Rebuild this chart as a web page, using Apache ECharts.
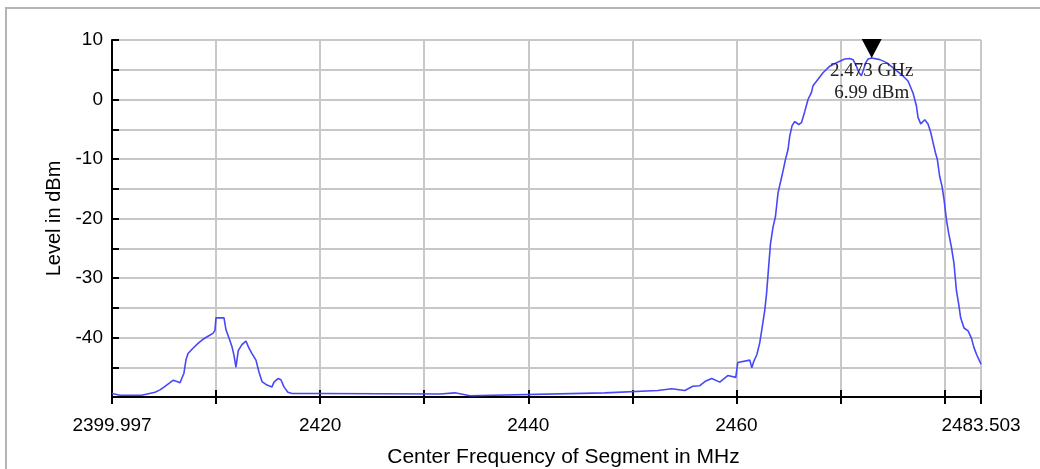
<!DOCTYPE html>
<html>
<head>
<meta charset="utf-8">
<script src="https://cdn.jsdelivr.net/npm/echarts@6/dist/echarts.min.js"></script>
<style>html,body{margin:0;padding:0;background:#fff}#c{width:1040px;height:469px}</style>
</head>
<body>
<div id="c"></div>
<script>
const freqMHz = [2399.997,2400.77,2402.85,2403.0,2404.13,2404.61,2405.09,2405.57,2405.86,2406.24,2406.53,2406.72,2406.91,2407.10,2407.30,2407.78,2408.26,2408.74,2409.22,2409.70,2409.89,2409.99,2410.37,2410.56,2410.76,2410.95,2411.24,2411.52,2411.72,2411.91,2412.13,2412.48,2412.87,2413.16,2413.45,2413.83,2414.12,2414.41,2414.89,2415.37,2415.56,2415.94,2416.23,2416.52,2416.90,2417.29,2419.98,2420.1,2431.5,2432.95,2434.4,2434.58,2447.35,2452.45,2453.79,2455.04,2455.81,2456.48,2457.06,2457.63,2458.40,2459.17,2459.94,2460.13,2461.29,2461.48,2461.67,2461.96,2462.24,2462.43,2462.72,2462.89,2463.04,2463.27,2463.52,2463.75,2464.0,2464.26,2464.48,2464.71,2464.96,2465.12,2465.35,2465.61,2465.99,2466.25,2466.57,2466.88,2467.21,2467.36,2467.84,2468.32,2468.97,2469.77,2470.41,2470.89,2471.21,2471.53,2471.78,2472.01,2472.17,2472.43,2472.65,2473.0,2473.79,2474.43,2475.21,2475.86,2476.49,2476.97,2477.30,2477.45,2477.71,2478.10,2478.41,2478.67,2478.89,2479.12,2479.31,2479.53,2479.76,2479.95,2480.18,2480.40,2480.66,2480.91,2481.14,2481.36,2481.55,2481.87,2482.26,2482.58,2482.83,2483.09,2483.38,2483.503];
const levelDbm = [-49.4,-49.7,-49.7,-49.5,-49.2,-48.8,-48.2,-47.6,-47.2,-47.4,-47.6,-47.4,-46.0,-43.8,-42.7,-41.8,-41.0,-40.3,-39.8,-39.3,-38.8,-36.7,-36.7,-37.0,-36.7,-38.7,-40.1,-41.5,-43.0,-45.0,-42.2,-41.2,-40.6,-41.8,-42.7,-43.8,-45.8,-47.4,-48.0,-48.3,-47.5,-46.9,-47.1,-48.3,-49.2,-49.4,-49.4,-49.6,-49.5,-49.3,-49.8,-49.5,-49.3,-48.9,-48.6,-48.9,-48.2,-48.1,-47.3,-46.9,-47.5,-46.4,-46.7,-44.2,-43.8,-45.1,-44.0,-42.9,-40.9,-38.8,-35.5,-32.7,-29.4,-24.3,-21.4,-19.7,-15.7,-13.7,-12.0,-10.1,-8.4,-6.2,-4.4,-3.7,-4.2,-3.9,-2.0,0.0,1.2,2.3,3.4,4.5,5.6,6.3,6.8,6.9,6.7,5.6,4.5,4.0,4.8,6.2,6.8,6.99,6.7,6.2,5.1,4.2,3.1,1.1,-1.1,-3.0,-4.1,-3.4,-4.1,-5.5,-7.2,-8.9,-10.1,-12.9,-14.6,-16.8,-20.2,-22.5,-24.8,-27.6,-32.1,-34.4,-36.7,-38.4,-38.9,-40.1,-41.7,-42.9,-44.0,-44.5];
const xTickValues = [2399.997,2410,2420,2430,2440,2450,2460,2470,2480,2483.503];
const xLabelValues = [2399.997,2420,2440,2460,2483.503];
const xLabelTexts = ['2399.997','2420','2440','2460','2483.503'];
const yTickValues = [10,5,0,-5,-10,-15,-20,-25,-30,-35,-40,-45,-50];
const yLabelValues = [10,0,-10,-20,-30,-40];
const markerFreq = [2473.0];
const markerLevel = [6.99];
const markerTexts = ['2.473 GHz','6.99 dBm'];

const chart = echarts.init(document.getElementById('c'), null, {renderer:'canvas'});
const font = 'Liberation Sans, Arial, sans-serif';
const gridStyle = {color:'#c8c8c8', width:2};
chart.setOption({
  animation:false,
  backgroundColor:'#fff',
  graphic:[{type:'rect', shape:{x:6,y:8,width:1100,height:600}, style:{fill:'none', stroke:'#b4b4b4', lineWidth:2}, silent:true, z:-10}],
  grid:{left:112, right:59, top:40, bottom:72, containLabel:false, outerBoundsMode:'none'},
  xAxis:[{
    type:'value', min:2399.997, max:2483.503,
    name:'Center Frequency of Segment in MHz', nameLocation:'middle', nameGap:50,
    nameTextStyle:{fontFamily:font, fontSize:21, color:'#000', padding:[0,0,0,34]},
    axisLine:{onZero:false, lineStyle:{color:'#000', width:2}},
    axisTick:{inside:true, length:7, customValues:xTickValues, lineStyle:{color:'#000', width:2}},
    axisLabel:{customValues:xLabelValues, fontFamily:font, fontSize:19, color:'#000', margin:19,
      formatter:(v)=>{const i=xLabelValues.findIndex(x=>Math.abs(x-v)<1e-6);return i>=0?xLabelTexts[i]:'';}},
    splitLine:{show:true, lineStyle:gridStyle}
  },{
    type:'value', min:2399.997, max:2483.503, position:'bottom',
    axisLine:{show:false, onZero:false},
    axisTick:{inside:false, length:7, customValues:xTickValues, lineStyle:{color:'#000', width:2}},
    axisLabel:{show:false}, splitLine:{show:false}
  }],
  yAxis:{
    type:'value', min:-50, max:10, interval:5,
    name:'Level in dBm', nameLocation:'middle', nameGap:47, nameRotate:90,
    nameTextStyle:{fontFamily:font, fontSize:20, color:'#000'},
    axisLine:{show:true, onZero:false, lineStyle:{color:'#000', width:2}},
    axisTick:{inside:true, length:7, customValues:yTickValues, lineStyle:{color:'#000', width:2}},
    axisLabel:{customValues:yLabelValues, fontFamily:font, fontSize:19, color:'#000', margin:9},
    splitLine:{show:true, lineStyle:gridStyle}
  },
  series:[{
    type:'line', data:freqMHz.map((f,i)=>[f, levelDbm[i]]),
    showSymbol:false, symbol:'none', lineStyle:{color:'#4848f8', width:1.6}, z:3
  },{
    type:'scatter', data:markerFreq.map((f,i)=>[f, markerLevel[i]]),
    symbol:'path://M0,0L20,0L10,19Z', symbolSize:[20,19], symbolOffset:[0,-9.5],
    itemStyle:{color:'#000', opacity:1}, z:5,
    label:{show:true, position:'inside', offset:[0,34], formatter:markerTexts.join('\n'),
      fontFamily:'Liberation Serif, serif', fontSize:19, lineHeight:22, color:'#222'}
  }]
});
</script>
</body>
</html>
